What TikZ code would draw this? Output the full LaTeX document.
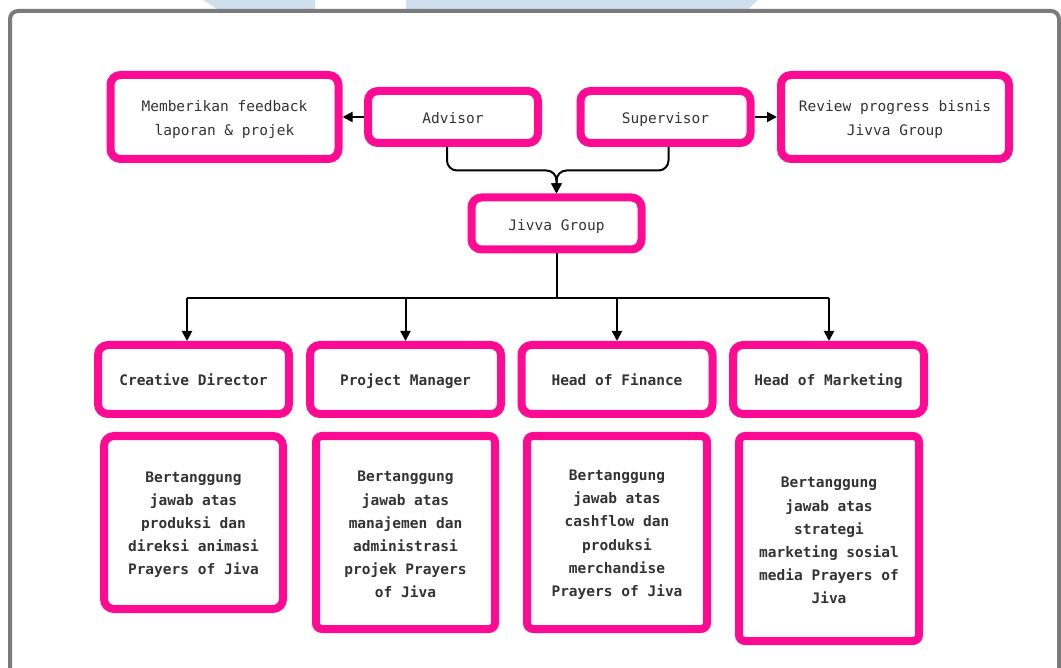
\documentclass[tikz,border=0pt]{standalone}
\usepackage{fontspec}
\setmonofont{DejaVu Sans Mono}
\usetikzlibrary{arrows.meta, positioning, calc}
\definecolor{pk}{HTML}{FF0A93}
\definecolor{ink}{HTML}{333333}
\definecolor{frm}{HTML}{7B7B7B}
\definecolor{wm}{HTML}{CFDFEE}
\newcommand{\lowerby}[1]{\rule{0pt}{#1}}

\begin{document}
\begin{tikzpicture}[x=1pt, y=-1pt, font=\ttfamily\fontsize{14.5}{24}\selectfont,
    >={Triangle[length=10pt, width=10pt]},
    box/.style={draw=pk, line width=8pt, rounded corners=10pt, text=ink, align=center, inner sep=0pt},
    note/.style={box, minimum width=228pt, minimum height=84pt},
    lead/.style={box, minimum width=170pt, minimum height=52pt, text height=15pt, text depth=1.5pt},
    role/.style={box, minimum width=191pt, minimum height=69pt, text height=14pt, text depth=2pt,
      font=\ttfamily\bfseries\fontsize{14.5}{24}\selectfont},
    duty/.style={box, rounded corners=6pt, minimum width=180pt,
      font=\ttfamily\bfseries\fontsize{14.5}{23.2}\selectfont},
    link/.style={->, line width=2pt, black}]

  \useasboundingbox (0,0) rectangle (1061,668);

  % watermark and frame
  \fill[wm] (203,0) -- (315,0) -- (315,12) -- (222,12) -- cycle;
  \fill[wm] (406,0) -- (758,0) -- (745,12) -- (406,12) -- cycle;
  \draw[frm, line width=4pt, rounded corners=8pt] (10,11) rectangle (1059,720);

  % top row
  \node[note] (fb)  at (224.5,117) {\lowerby{17pt}Memberikan feedback\\laporan \& projek};
  \node[lead] (adv) at (453,117)   {Advisor};
  \node[lead] (sup) at (665.5,117) {Supervisor};
  \node[note] (rv)  at (895,117)   {\lowerby{17pt}Review progress bisnis\\Jivva Group};
  \node[lead] (jv)  at (556.5,223.5) {Jivva Group};

  \draw[link] (adv) -- (fb);
  \draw[link] (sup) -- (rv);
  \draw[link, rounded corners=10pt] ([xshift=-6pt]adv.south) |- ($(jv.north)+(0,-23)$) -- (jv.north);
  \draw[link, rounded corners=10pt] ([xshift=3pt]sup.south) |- ($(jv.north)+(0,-23)$) -- (jv.north);

  % roles
  \node[role] (cd) at (193.5,379.5) {Creative Director};
  \node[role] (pm) at (405.5,379.5) {Project Manager};
  \node[role] (hf) at (617,379.5)   {Head of Finance};
  \node[role] (hm) at (828.5,379.5) {Head of Marketing};

  \coordinate (busL) at (187,298);
  \coordinate (busR) at (829,298);
  \draw[line width=2pt] (jv.south) -- (jv.south |- busL);
  \draw[line width=2pt] (busL) -- (busR);
  \draw[link] (busL) -- (busL |- cd.north);
  \draw[link] (pm.north |- busL) -- (pm.north);
  \draw[link] (hf.north |- busL) -- (hf.north);
  \draw[link] (busR) -- (busR |- hm.north);

  % duties
  \node[duty, rounded corners=10pt, minimum width=179pt, minimum height=173pt] (cdd) at (193.5,522.5)
    {\lowerby{15pt}Bertanggung\\jawab atas\\produksi dan\\direksi animasi\\Prayers of Jiva};
  \node[duty, minimum width=179pt, minimum height=193pt] (pmd) at (405.5,532.5)
    {\lowerby{15pt}Bertanggung\\jawab atas\\manajemen dan\\administrasi\\projek Prayers\\of Jiva};
  \node[duty, minimum height=193pt] (hfd) at (617,532.5)
    {\lowerby{15pt}Bertanggung\\jawab atas\\cashflow dan\\produksi\\merchandise\\Prayers of Jiva};
  \node[duty, minimum height=205pt] (hmd) at (829,538.5)
    {\lowerby{15pt}Bertanggung\\jawab atas\\strategi\\marketing sosial\\media Prayers of\\Jiva};
\end{tikzpicture}
\end{document}
